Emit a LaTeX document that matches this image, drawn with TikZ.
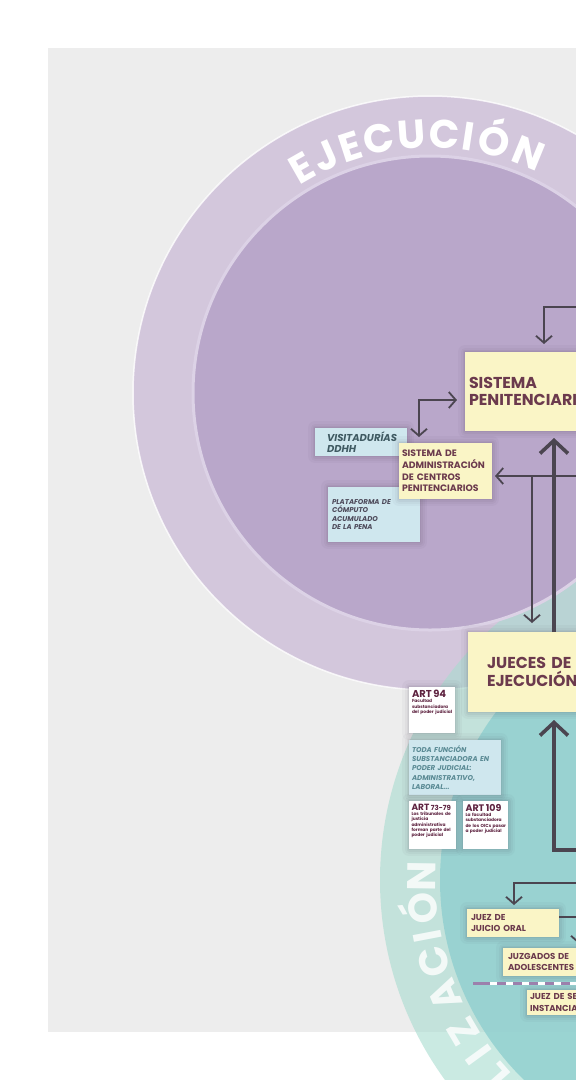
\documentclass[tikz,border=0pt]{standalone}
\usepackage{fontspec}
\setmainfont{Poppins}
\usetikzlibrary{arrows.meta,calc}

\definecolor{bggray}{HTML}{EDEDED}
\definecolor{ringlav}{HTML}{D3C7DC}
\definecolor{corelav}{HTML}{B9A7CA}
\definecolor{rimlav}{HTML}{DCD2E6}
\definecolor{tealring}{HTML}{A8DCCF}
\definecolor{tealcore}{HTML}{8FCFCF}
\definecolor{cream}{HTML}{FAF5C6}
\definecolor{maroon}{HTML}{6B3A4D}
\definecolor{artred}{HTML}{5E2340}
\definecolor{paleblue}{HTML}{CFE7EE}
\definecolor{slate}{HTML}{3F5A62}
\definecolor{plumgray}{HTML}{4D4A5A}
\definecolor{tealtext}{HTML}{5A8A94}
\definecolor{arrowgray}{HTML}{4B4550}
\definecolor{dashpurple}{HTML}{9C80AC}
\definecolor{shade}{HTML}{3A2F45}

\begin{document}
\begin{tikzpicture}[x=1pt, y=-1pt,
  every node/.style={inner sep=0pt, outer sep=0pt},
  % soft halo: stacked translucent strokes behind the fill
  softshadow/.style={
    preaction={draw=shade, draw opacity=0.035, line width=14pt, line join=round},
    preaction={draw=shade, draw opacity=0.04, line width=9pt, line join=round},
    preaction={draw=shade, draw opacity=0.05, line width=5pt, line join=round},
    preaction={draw=shade, draw opacity=0.06, line width=2pt, line join=round}},
  card/.style={anchor=north west, align=left, softshadow},
  creambox/.style={card, fill=cream, text=maroon},
  bluebox/.style={card, fill=paleblue},
  artbox/.style={card, fill=white},
  arttext/.style={anchor=north west, align=left, text=artred,
      font=\fontsize{4.4}{5.3}\selectfont\bfseries},
  ringletter/.style={anchor=base, text=white,
      font=\fontsize{40}{40}\selectfont\bfseries},
  thinlink/.style={draw=arrowgray, line width=1.8pt,
      >={Straight Barb[length=7pt, width=16pt]}},
  thicklink/.style={draw=arrowgray, line width=3.6pt,
      >={Straight Barb[length=13pt, width=28pt]}}
]
\useasboundingbox (0,0) rectangle (576,1080);
\clip (0,0) rectangle (576,1080);
\fill[white] (0,0) rectangle (576,1080);
\fill[bggray] (48,48) rectangle (640,1032);

% --- ejecución ring ---
\coordinate (pc) at (430,393);
\fill[ringlav] (pc) circle[radius=297pt];
\draw[white, opacity=0.8, line width=1.5pt] (pc) circle[radius=297pt];

% --- teal ring (lower right) ---
\coordinate (tc) at (720,880);
\fill[tealring, opacity=0.6] (tc) circle[radius=340pt];
\fill[tealcore, opacity=0.8] (tc) circle[radius=280pt];

% --- ejecución core ---
\fill[corelav] (pc) circle[radius=237pt];
\draw[rimlav, line width=3pt] (pc) circle[radius=237pt];

% ring lettering
\foreach \ch/\ang [count=\i] in {E/119.7, J/113.9, E/108.0, C/101.4, U/94.1, C/86.8, I/81.4, Ó/75.6, N/67.7}
  \node[ringletter, rotate=\ang-90] (ej\i) at ([shift={(\ang:245pt)}]pc) {\ch};
\foreach \ch/\ang [count=\i] in {A/227.5, L/221.2, I/216.0, Z/210.5, A/202.8, C/196, I/190.8, Ó/185.5, N/179.2}
  \node[ringletter, opacity=0.8, rotate=\ang-90] (tl\i) at ([shift={(\ang:284pt)}]tc) {\ch};

% --- boxes ---
\node[creambox, minimum width=195pt, minimum height=79pt, inner xsep=4pt, text width=187pt,
      font=\fontsize{15.8}{17.5}\selectfont\bfseries] (sp) at (465,352) {SISTEMA\\PENITENCIARIO};

\node[bluebox, minimum width=92pt, minimum height=28pt, inner xsep=12pt, text width=68pt,
      text=slate, font=\fontsize{10}{11}\selectfont\bfseries\itshape] (vis) at (315,428) {VISITADURÍAS\\DDHH};

\node[bluebox, minimum width=92pt, minimum height=55pt, inner xsep=4pt, text width=84pt,
      text=plumgray, font=\fontsize{7}{8.4}\selectfont\bfseries\itshape] (pl) at (328,487)
      {PLATAFORMA DE\\CÓMPUTO\\ACUMULADO\\DE LA PENA};

\node[creambox, minimum width=93pt, minimum height=56pt, inner xsep=3pt, text width=87pt,
      font=\fontsize{9.3}{11.6}\selectfont\bfseries] (ad) at (399,443)
      {SISTEMA DE\\ADMINISTRACIÓN\\DE CENTROS\\PENITENCIARIOS};

\node[creambox, minimum width=200pt, minimum height=80pt, inner xsep=19pt, text width=162pt,
      font=\fontsize{15.8}{17.5}\selectfont\bfseries] (ju) at (468,632) {JUECES DE\\EJECUCIÓN};

\node[artbox, minimum width=46pt, minimum height=46pt] (a94) at (409,687) {};
\node[arttext, text width=42pt] (a94t) at ([shift={(3pt,-3pt)}]a94.north west)
  {{\fontsize{10}{10}\selectfont ART 94}\\Facultad\\substanciadora\\del poder judicial};

\node[bluebox, minimum width=92pt, minimum height=55pt, inner xsep=3pt, text width=86pt,
      text=tealtext, font=\fontsize{7}{9.3}\selectfont\bfseries\itshape] (toda) at (409,740)
      {TODA FUNCIÓN\\SUBSTANCIADORA EN\\PODER JUDICIAL:\\ADMINISTRATIVO,\\LABORAL...};

\node[artbox, minimum width=47pt, minimum height=48pt] (a73) at (409,801) {};
\node[arttext, text width=45pt] (a73t) at ([shift={(2.5pt,-3pt)}]a73.north west)
  {{\fontsize{9}{9}\selectfont ART\,{\fontsize{7}{7}\selectfont 73-79}}\\Los tribunales de\\justicia\\administrativa\\forman parte del\\poder judicial};

\node[artbox, minimum width=45pt, minimum height=48pt] (a109) at (463,801) {};
\node[arttext, text width=42pt] (a109t) at ([shift={(2.5pt,-3pt)}]a109.north west)
  {{\fontsize{9.5}{9.5}\selectfont ART 109}\\La facultad\\substanciadora\\de los OICs pasar\\a poder judicial};

\node[creambox, minimum width=92pt, minimum height=28pt, inner xsep=4pt, text width=84pt,
      font=\fontsize{8.6}{11.6}\selectfont\bfseries] (jo) at (467,909) {JUEZ DE\\JUICIO ORAL};

\node[creambox, minimum width=120pt, minimum height=28pt, inner xsep=5pt, text width=110pt,
      font=\fontsize{8.6}{11.3}\selectfont\bfseries] (jz) at (503,948) {JUZGADOS DE\\ADOLESCENTES};

\node[creambox, minimum width=100pt, minimum height=25pt, inner xsep=3pt, text width=94pt,
      font=\fontsize{8.6}{11.3}\selectfont\bfseries] (js) at (527,990) {JUEZ DE SEGUNDA\\INSTANCIA};

% dashed divider
\coordinate (dashL) at (473,983);
\coordinate (dashR) at (620,983);
\draw[white, line width=3pt] (dashL) -- (dashR);
\draw[dashpurple, line width=3pt,
      dash pattern=on 17pt off 7pt on 9pt off 7pt on 9pt off 7pt on 9pt off 7pt on 9pt off 7pt on 9pt off 7pt on 9pt off 7pt]
      (dashL) -- (dashR);

% --- connectors ---
\coordinate (colB) at (554,0);
\coordinate (colH) at (579,0);
\coordinate (inA) at (600,307);
\coordinate (inD) at (600,476);
\coordinate (brE) at (532,476);
\coordinate (outF) at (600,850);
\coordinate (inG) at (600,883);

\draw[thinlink, ->, shorten >=8pt] (inA) -| ([xshift=79pt]sp.north west);
\draw[thinlink, <->, shorten <=8pt, shorten >=6pt] ([yshift=-8.5pt]sp.west) -| ([xshift=20pt]ad.north west);
\draw[thicklink, ->, shorten >=7pt] (ju.north -| colB) -- (sp.south -| colB);
\draw[thinlink, ->, shorten >=3pt] (inD) -- (ad.east |- inD);
\draw[thinlink, ->, shorten >=9pt] (brE) -- (brE |- ju.north);
\draw[thicklink, ->, shorten >=8pt] (outF) -| (ju.south -| colB);
\draw[thinlink, ->, shorten >=4pt] (inG) -| ([xshift=47pt]jo.north west);
\draw[thinlink, ->, shorten >=4pt] ([yshift=6pt]jo.east) -| (jz.north -| colH);
\end{tikzpicture}
\end{document}
